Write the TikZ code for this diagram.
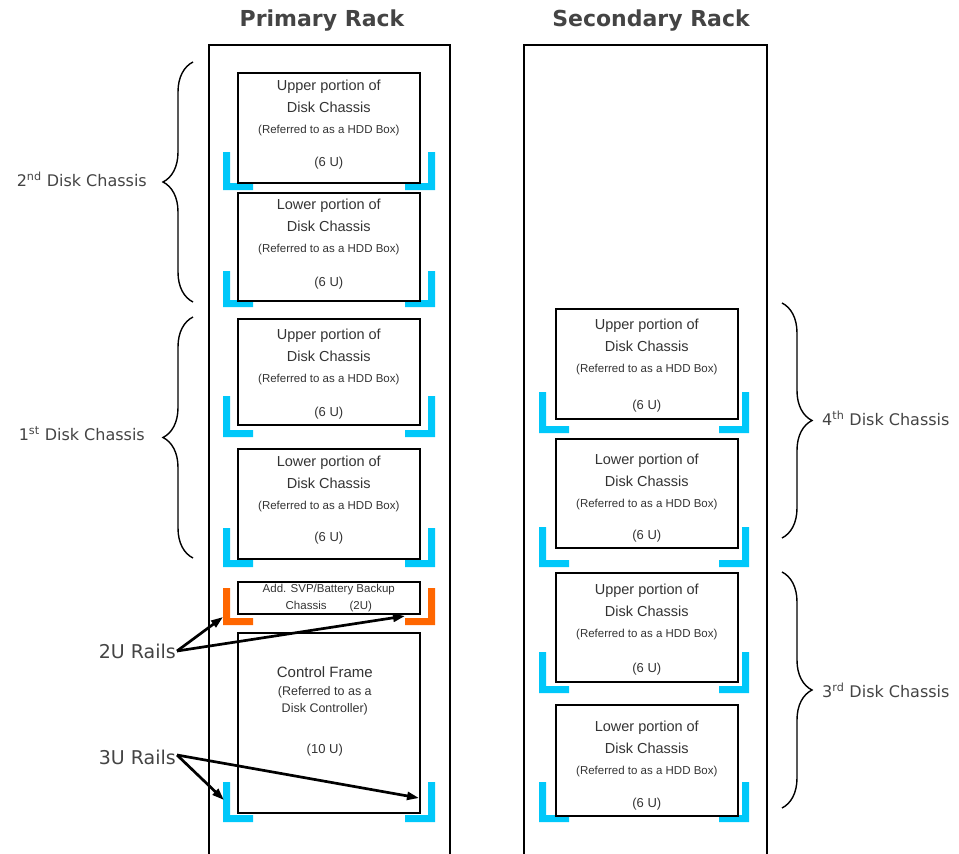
\documentclass[tikz,border=0pt]{standalone}
\usepackage{fontspec}
\setmainfont{Liberation Sans}
\newfontfamily\lblfont{DejaVu Sans}
\usetikzlibrary{arrows.meta,decorations.pathreplacing}

\definecolor{railblue}{RGB}{0,200,250}
\definecolor{railorange}{RGB}{255,102,0}
\definecolor{ink}{RGB}{51,51,51}
\definecolor{labelgray}{RGB}{68,68,68}

\newcommand\hddnote{\fontsize{11.5}{13}\selectfont}

% #1 name, #2 left x, #3 top y, #4 bottom y, #5 first line,
% #6 drop of the text block below the top edge, #7 lift of the unit above the bottom edge
\newcommand\diskbox[7]{%
  \node[box, anchor=north west, minimum width=182, minimum height={#4-#3}] (#1) at (#2,#3) {};
  \node[boxtxt, anchor=north] (#1t) at ([yshift=-#6pt]#1.north)
    {#5\\Disk Chassis\\{\hddnote (Referred to as a HDD Box)}};
  \node[unittxt] (#1u) at ([yshift=#7pt]#1.south) {(6 U)};
}

% a pair of L-shaped mounting rails: #1 colour, #2 top y, #3 bottom y, #4 left outer x, #5 right outer x
\newcommand\railpair[5]{%
  \fill[#1] (#4,#2) -- ({#4+7},#2) -- ({#4+7},{#3-7}) -- ({#4+30},{#3-7})
            -- ({#4+30},#3) -- (#4,#3) -- cycle;
  \fill[#1] (#5,#2) -- ({#5-7},#2) -- ({#5-7},{#3-7}) -- ({#5-30},{#3-7})
            -- ({#5-30},#3) -- (#5,#3) -- cycle;
}

\begin{document}
\begin{tikzpicture}[x=1pt,y=-1pt,
  rackframe/.style={draw=black,line width=1.8pt},
  box/.style={draw=black,line width=1.6pt,inner sep=0pt},
  boxtxt/.style={text=ink,align=center,inner sep=0pt,font=\fontsize{14.5}{21.5}\selectfont},
  unittxt/.style={text=ink,inner sep=0pt,font=\fontsize{13}{15}\selectfont},
  racktitle/.style={text=labelgray,inner sep=0pt,font=\lblfont\bfseries\fontsize{22}{26}\selectfont},
  chassislabel/.style={text=labelgray,inner sep=1pt,font=\lblfont\fontsize{16}{19}\selectfont},
  raillabel/.style={text=labelgray,inner sep=1pt,font=\lblfont\fontsize{19}{22}\selectfont},
  bracepath/.style={decorate,decoration={brace,amplitude=30pt},line width=1.4pt},
  pointer/.style={-{Triangle[length=12pt,width=8pt]},line width=2.7pt},
]
\useasboundingbox (0,0) rectangle (959,854);

% rack frames, open at the bottom
\draw[rackframe] (209,854) |- (450,45) -- (450,854);
\draw[rackframe] (524,854) |- (767,45) -- (767,854);
\node[racktitle] (ptitle) at (322,21) {Primary Rack};
\node[racktitle] (stitle) at (651,21) {Secondary Rack};

% rails
\railpair{railblue}{152}{190}{223}{435}
\railpair{railblue}{271}{307}{223}{435}
\railpair{railblue}{396}{437}{223}{435}
\railpair{railblue}{528}{567}{223}{435}
\railpair{railorange}{588}{625}{223}{435}
\railpair{railblue}{782}{822}{223}{435}

\railpair{railblue}{392}{433}{539}{749}
\railpair{railblue}{527}{567}{539}{749}
\railpair{railblue}{652}{693}{539}{749}
\railpair{railblue}{782}{822}{539}{749}

% primary rack contents
\diskbox{p1}{237}{72}{182}{Upper portion of}{8}{20}
\diskbox{p2}{237}{192}{300}{Lower portion of}{7}{18}
\diskbox{p3}{237}{318}{424}{Upper portion of}{11}{12}
\diskbox{p4}{237}{448}{558}{Lower portion of}{8}{21}

\node[box, anchor=north west, minimum width=182, minimum height=32] (pa) at (237,581) {};
\node[boxtxt, anchor=center, font=\fontsize{11.5}{17}\selectfont] (pat) at (pa.center)
  {Add. SVP/Battery Backup\\Chassis\quad\quad(2U)};

\node[box, anchor=north west, minimum width=182, minimum height=180] (pc) at (237,632) {};
\node[boxtxt, anchor=north, font=\fontsize{15}{17}\selectfont] (pct) at ([xshift=-4pt,yshift=-34pt]pc.north)
  {Control Frame\\[1pt]{\fontsize{12.5}{16}\selectfont (Referred to as a}\\{\fontsize{12.5}{16}\selectfont Disk Controller)}};
\node[unittxt] (pcu) at ([xshift=-4pt,yshift=-118pt]pc.north) {(10 U)};

% secondary rack contents
\diskbox{s1}{555}{308}{418}{Upper portion of}{11}{13}
\diskbox{s2}{555}{438}{547}{Lower portion of}{16}{12}
\diskbox{s3}{555}{572}{681}{Upper portion of}{12}{13}
\diskbox{s4}{555}{704}{815}{Lower portion of}{17}{12}

% braces grouping the chassis
\draw[bracepath] (193,302) -- (193,62);
\draw[bracepath] (193,558) -- (193,317);
\draw[bracepath] (782,303) -- (782,538);
\draw[bracepath] (782,572) -- (782,808);
\node[chassislabel, anchor=east] (c2) at (148,179) {2\textsuperscript{nd} Disk Chassis};
\node[chassislabel, anchor=east] (c1) at (146,434) {1\textsuperscript{st} Disk Chassis};
\node[chassislabel, anchor=west] (c4) at (821,418) {4\textsuperscript{th} Disk Chassis};
\node[chassislabel, anchor=west] (c3) at (821,690) {3\textsuperscript{rd} Disk Chassis};

% rail callouts
\coordinate (o2L) at (223,617);
\coordinate (o2R) at (405,616);
\coordinate (c3L) at (224,800);
\coordinate (c3R) at (419,798);
\node[raillabel, anchor=east] (u2) at (177,651) {2U Rails};
\node[raillabel, anchor=east] (u3) at (177,757) {3U Rails};
\draw[pointer] (u2.east) -- (o2L);
\draw[pointer] (u2.east) -- (o2R);
\draw[pointer] ([yshift=2pt]u3.east) -- (c3L);
\draw[pointer] ([yshift=2pt]u3.east) -- (c3R);
\end{tikzpicture}
\end{document}
